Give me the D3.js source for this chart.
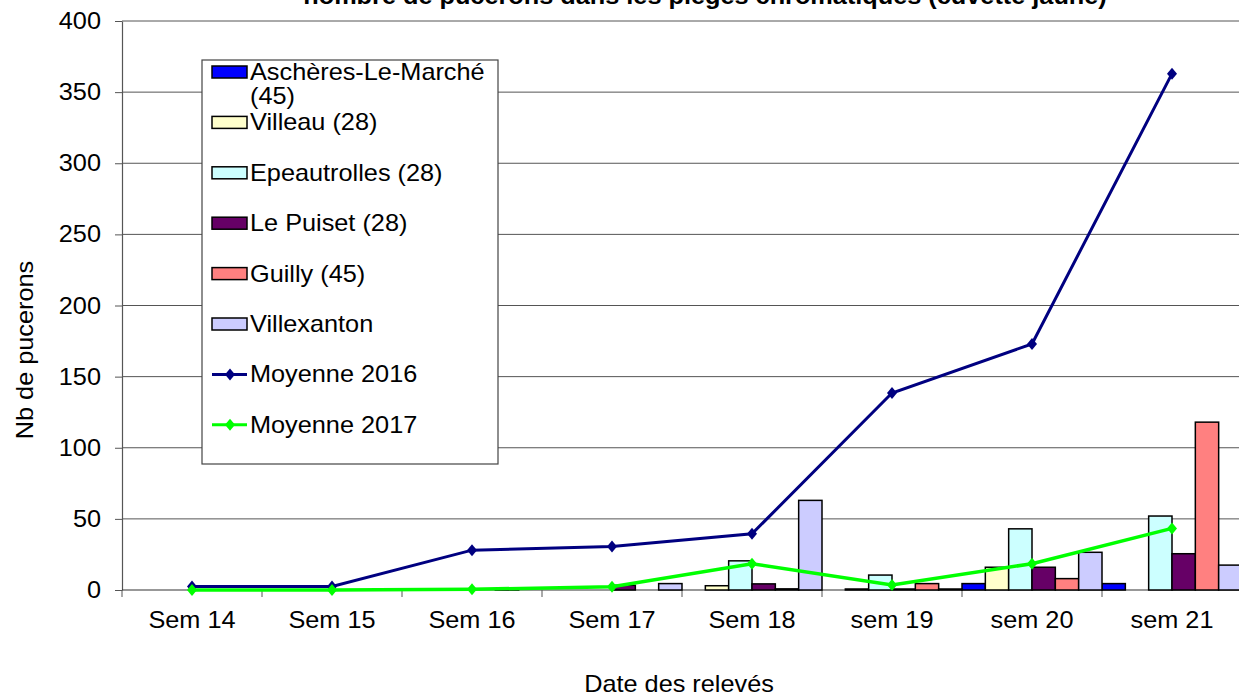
<!DOCTYPE html>
<html>
<head>
<meta charset="utf-8">
<script src="https://cdn.jsdelivr.net/npm/d3@7/dist/d3.min.js"></script>
<style>
  body { margin: 0; background: #fff; }
  text { font-family: "Liberation Sans", Arial, sans-serif; fill: #000; }
</style>
</head>
<body>
<svg id="chart" width="1239" height="697"></svg>
<script>
// data
var categories = ["Sem 14", "Sem 15", "Sem 16", "Sem 17", "Sem 18", "sem 19", "sem 20", "sem 21"]
var seriesNames = ["Aschères-Le-Marché (45)", "Villeau (28)", "Epeautrolles (28)", "Le Puiset (28)", "Guilly (45)", "Villexanton"]
var seriesColors = ["#0000ff", "#ffffcc", "#ccffff", "#660066", "#ff8080", "#ccccff"]
var aschères = [0, 0, 0, 0, 0, 0, 4.5, 4.5]
var villeau = [0, 0, 0, 0, 3, 0.7, 16, 0]
var epeautrolles = [0, 0, 0, 0, 20.5, 10.5, 43, 52]
var lePuiset = [0, 0, 0, 3.3, 4.3, 0.7, 16, 25.5]
var guilly = [0, 0, 0.6, 0, 0.8, 4.5, 8, 118]
var villexanton = [0, 0, 0, 4.5, 63, 0.7, 26.5, 17.5]
var moyenne2016 = [2.5, 2.5, 28, 30.5, 39.5, 138.5, 173, 363]
var moyenne2017 = [0, 0, 0.5, 2.3, 18.5, 3.5, 18.5, 43.3]
var lineNames = ["Moyenne 2016", "Moyenne 2017"]
var lineColors = ["#000080", "#00ff00"]
var yTicks = [0, 50, 100, 150, 200, 250, 300, 350, 400]

var barSeries = [aschères, villeau, epeautrolles, lePuiset, guilly, villexanton]
var lineSeries = [moyenne2016, moyenne2017]

var svg = d3.select("#chart")
var fs = 23      // font size
var sx = 1.1     // horizontal stretch of the original picture

var x = d3.scaleBand().domain(categories).range([122, 1242]).padding(0)
var x1 = d3.scaleBand().domain(d3.range(seriesNames.length)).range([0, x.bandwidth()]).padding(0)
var y = d3.scaleLinear().domain([0, 400]).range([590, 21])

function stretchText(sel, tx, ty) {
  return sel.attr("transform", `translate(${tx},${ty}) scale(${sx},1)`)
}

// Gridlines
svg.append("g").selectAll("line").data(yTicks.slice(1)).enter().append("line")
  .attr("x1", 122).attr("x2", 1242)
  .attr("y1", d => y(d)).attr("y2", d => y(d))
  .attr("stroke", "#555").attr("stroke-width", 1)

// Y axis
var yAxis = svg.append("g").attr("transform", "translate(122,0)")
  .call(d3.axisLeft(y).tickValues(yTicks).tickSize(7).tickSizeOuter(0).tickFormat(d3.format("d")))
yAxis.select(".domain").attr("stroke", "#555").attr("stroke-width", 1.2)
yAxis.selectAll(".tick line").attr("stroke", "#555")
yAxis.selectAll(".tick text").remove()
svg.append("g").selectAll("text").data(yTicks).enter().append("text")
  .each(function(d) { stretchText(d3.select(this), 101, y(d) + 8) })
  .attr("text-anchor", "end")
  .style("font-size", fs + "px")
  .text(d => d)

// X axis line + boundary ticks
svg.append("line").attr("x1", 122).attr("x2", 1242).attr("y1", y(0)).attr("y2", y(0))
  .attr("stroke", "#333").attr("stroke-width", 1.2)
svg.append("g").selectAll("line").data(categories).enter().append("line")
  .attr("x1", d => x(d)).attr("x2", d => x(d))
  .attr("y1", y(0)).attr("y2", y(0) + 7)
  .attr("stroke", "#555")

svg.append("g").selectAll("text").data(categories).enter().append("text")
  .each(function(d) { stretchText(d3.select(this), x(d) + x.bandwidth() / 2, 628) })
  .attr("text-anchor", "middle")
  .style("font-size", fs + "px")
  .text(d => d)

// Bars
barSeries.forEach((vals, s) => {
  svg.append("g").selectAll("rect").data(vals).enter().append("rect")
    .attr("x", (d, i) => x(categories[i]) + x1(s))
    .attr("y", d => y(d))
    .attr("width", x1.bandwidth())
    .attr("height", d => y(0) - y(d))
    .attr("fill", seriesColors[s])
    .attr("stroke", "#000")
    .attr("stroke-width", 1.5)
})

// Lines
var diamond = "M0,-6L5,0L0,6L-5,0Z"
var line = d3.line().x((d, i) => x(categories[i]) + x.bandwidth() / 2).y(d => y(d))
lineSeries.forEach((vals, s) => {
  svg.append("path").datum(vals)
    .attr("d", line)
    .attr("fill", "none")
    .attr("stroke", lineColors[s])
    .attr("stroke-width", s == 0 ? 3 : 3.5)
  svg.append("g").selectAll("path").data(vals).enter().append("path")
    .attr("d", diamond)
    .attr("transform", (d, i) => `translate(${x(categories[i]) + x.bandwidth() / 2},${y(d)})`)
    .attr("fill", lineColors[s])
})

// Legend
var lg = svg.append("g")
lg.append("rect").attr("x", 202).attr("y", 60).attr("width", 296).attr("height", 404)
  .attr("fill", "#fff").attr("stroke", "#444").attr("stroke-width", 1.2)

var legendItems = seriesNames.map((n, i) => ({ name: n, color: seriesColors[i], type: "bar" }))
  .concat(lineNames.map((n, i) => ({ name: n, color: lineColors[i], type: "line" })))

legendItems.forEach((item, i) => {
  var base = 80 + i * 50.4
  if (item.type == "bar") {
    lg.append("rect").attr("x", 212).attr("y", base - 14).attr("width", 35).attr("height", 12)
      .attr("fill", item.color).attr("stroke", "#000").attr("stroke-width", 1.5)
  } else {
    lg.append("line").attr("x1", 212).attr("x2", 247).attr("y1", base - 8).attr("y2", base - 8)
      .attr("stroke", item.color).attr("stroke-width", 3)
    lg.append("path").attr("d", diamond).attr("transform", `translate(230,${base - 8})`)
      .attr("fill", item.color)
  }
  var t = lg.append("text").style("font-size", fs + "px")
  stretchText(t, 250, base)
  if (item.name.indexOf("Aschères") == 0) {
    t.append("tspan").attr("x", 0).text("Aschères-Le-Marché")
    t.append("tspan").attr("x", 0).attr("dy", 24).text("(45)")
  } else {
    t.text(item.name)
  }
})

// Titles
stretchText(svg.append("text"), 705, 4)
  .attr("text-anchor", "middle")
  .style("font-size", "23px").style("font-weight", "bold")
  .text("nombre de pucerons dans les pièges chromatiques (cuvette jaune)")

stretchText(svg.append("text"), 679, 692)
  .attr("text-anchor", "middle")
  .style("font-size", fs + "px")
  .text("Date des relevés")

svg.append("text")
  .attr("transform", "translate(33,350) rotate(-90) scale(" + sx + ",1)")
  .attr("text-anchor", "middle")
  .style("font-size", fs + "px")
  .text("Nb de pucerons")
</script>
</body>
</html>
